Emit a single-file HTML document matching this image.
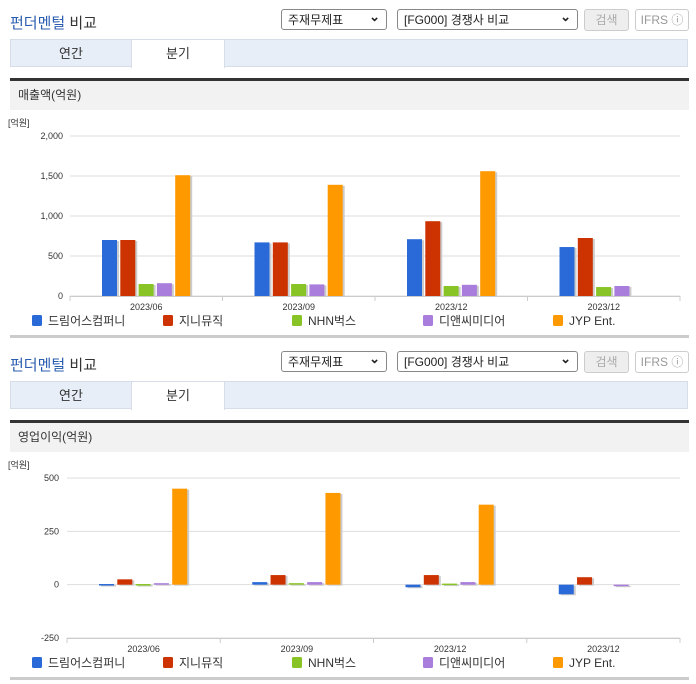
<!DOCTYPE html>
<html><head><meta charset="utf-8">
<style>
body{margin:0;width:696px;height:684px;background:#fff;font-family:"Liberation Sans","Noto Sans CJK KR",sans-serif;overflow:hidden;position:relative}
.blk{position:absolute;left:0;width:696px;height:342px}
.title{position:absolute;left:10px;top:12px;font-size:15px;color:#333}
.title b{font-weight:normal;color:#2a5db0}
.sel{position:absolute;top:9px;height:21px;border:1px solid #888;border-radius:3px;background:#fff;font-size:12px;line-height:21px;padding-left:6px;box-sizing:border-box;color:#222}
.sel:after{content:"⌄";position:absolute;right:6px;top:-4px;font-size:13px;font-weight:bold}
.btn{position:absolute;top:9px;height:22px;border:1px solid #ccc;border-radius:3px;font-size:12px;line-height:20px;text-align:center;box-sizing:border-box;color:#aaa}
.tabs{position:absolute;left:10px;top:39px;width:678px;height:28px;background:#e8eef7;border:1px solid #d6dde8;box-sizing:border-box}
.tab{position:absolute;top:0;height:28px;line-height:27px;font-size:13px;text-align:center;color:#333}
.hdr{position:absolute;left:10px;top:78px;width:679px;height:32px;background:#f2f2f2;border-top:3px solid #333;box-sizing:border-box;font-size:12px;color:#333;line-height:29px;padding-left:8px}
.bot{position:absolute;left:10px;top:335px;width:679px;height:3px;background:#ccc}
svg{position:absolute;left:0;top:110px}
</style></head><body>
<div class="blk" style="top:0">
 <div class="title"><b>펀더멘털</b> 비교</div>
 <div class="sel" style="left:281px;width:106px">주재무제표</div>
 <div class="sel" style="left:397px;width:181px">[FG000] 경쟁사 비교</div>
 <div class="btn" style="left:584px;width:45px;background:#eee">검색</div>
 <div class="btn" style="left:635px;width:54px;color:#999">IFRS ⓘ</div>
 <div class="tabs">
  <div class="tab" style="left:0;width:120px">연간</div>
  <div class="tab" style="left:120px;width:92px;background:#fff;border:1px solid #d6dde8;border-bottom:none;height:28px;top:-1px">분기</div>
 </div>
 <div class="hdr">매출액(억원)</div>
 <svg id="c1" width="696" height="225"></svg>
 <div class="bot"></div>
</div>
<div class="blk" style="top:342px">
 <div class="title"><b>펀더멘털</b> 비교</div>
 <div class="sel" style="left:281px;width:106px">주재무제표</div>
 <div class="sel" style="left:397px;width:181px">[FG000] 경쟁사 비교</div>
 <div class="btn" style="left:584px;width:45px;background:#eee">검색</div>
 <div class="btn" style="left:635px;width:54px;color:#999">IFRS ⓘ</div>
 <div class="tabs">
  <div class="tab" style="left:0;width:120px">연간</div>
  <div class="tab" style="left:120px;width:92px;background:#fff;border:1px solid #d6dde8;border-bottom:none;height:28px;top:-1px">분기</div>
 </div>
 <div class="hdr">영업이익(억원)</div>
 <svg id="c2" width="696" height="225"></svg>
 <div class="bot"></div>
</div>
<script>
const categories=["2023/06","2023/09","2023/12","2023/12"];
const seriesNames=["드림어스컴퍼니","지니뮤직","NHN벅스","디앤씨미디어","JYP Ent."];
const colors=["#2a6ad8","#cc3300","#88c425","#a97ddb","#ff9900"];
const revTicks=[0,500,1000,1500,2000];
const revValues=[[700,670,710,612],[700,670,935,725],[150,150,125,112],[160,145,140,125],[1510,1390,1560,null]];
const opTicks=[-250,0,250,500];
const opValues=[[3,12,-12,-45],[25,45,45,35],[3,7,5,null],[7,12,12,-5],[450,430,375,null]];
const NS="http://www.w3.org/2000/svg";
function mk(p,t,a){const e=document.createElementNS(NS,t);for(const k in a)e.setAttribute(k,a[k]);p.appendChild(e);return e;}
function draw(id,ticks,vals,x0,x1,yTop,yBot,labX){
 const svg=document.getElementById(id);
 const mn=ticks[0],mx=ticks[ticks.length-1];
 const y=v=>yBot-(v-mn)/(mx-mn)*(yBot-yTop);
 const cw=(x1-x0)/categories.length;
 const u=mk(svg,'text',{x:8,y:yTop-10,'font-size':9,fill:'#333'});u.textContent='[억원]';
 
 
 ticks.forEach(t=>{
  const g=mk(svg,'line',{x1:x0,x2:x1,y1:y(t),y2:y(t),stroke:'#ddd','stroke-width':1});
  
  
  const tl=mk(svg,'text',{x:labX,y:y(t)+3,'font-size':9,fill:'#333','text-anchor':'end'});tl.textContent=t.toLocaleString('en-US');
  
  
 });
 mk(svg,'line',{x1:x0,x2:x1,y1:yBot+0.5,y2:yBot+0.5,stroke:'#ccc'});
 categories.forEach((c,i)=>{
  const tk=mk(svg,'line',{x1:x0+i*cw,x2:x0+i*cw,y1:yBot,y2:yBot+5,stroke:'#ccc'});
  
  
  const cl=mk(svg,'text',{x:x0+(i+0.5)*cw,y:yBot+14,'font-size':9,fill:'#333','text-anchor':'middle'});cl.textContent=c;
  
  
  vals.forEach((s,j)=>{
   const v=s[i];if(v===null)return;
   const bx=x0+i*cw+32+j*18.3;
   const top=Math.min(y(v),y(0)),h=Math.max(Math.abs(y(v)-y(0)),1.5);
   mk(svg,'rect',{x:bx+2,y:top+1,width:15,height:h,fill:'#ccc'});
   const r=mk(svg,'rect',{x:bx,y:top,width:15,height:h,fill:colors[j]});
   
   
  });
 });
 mk(svg,'line',{x1:x1,x2:x1,y1:yBot,y2:yBot+5,stroke:'#ccc'});
 const lx=[32,163,292,423,553];
 seriesNames.forEach((n,j)=>{
  const r=mk(svg,'rect',{x:lx[j],y:yBot+19,width:10,height:11,rx:1.5,fill:colors[j]});
  
  
  const t=mk(svg,'text',{x:lx[j]+16,y:yBot+29,'font-size':12,fill:'#333'});t.textContent=n;
  
  
 });
}
draw('c1',revTicks,revValues,70,680,26,186,63);
draw('c2',opTicks,opValues,67,680,26,186,59);
</script>
</body></html>
